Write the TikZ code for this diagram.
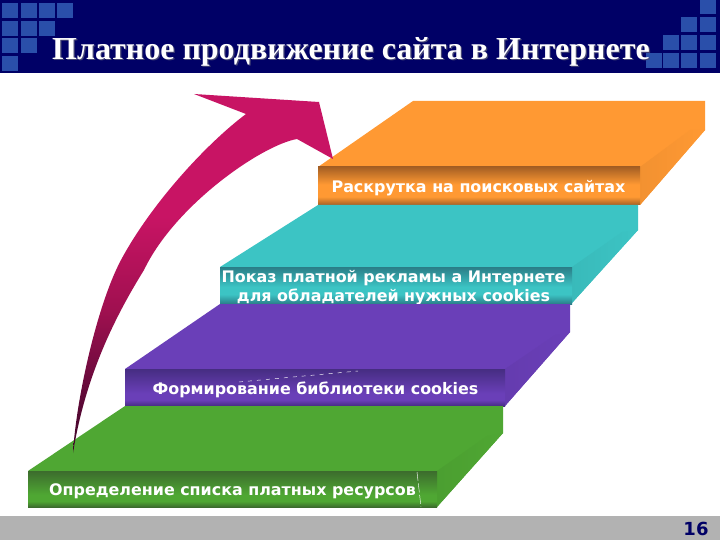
\documentclass[tikz,border=0pt]{standalone}
\usepackage{fontspec}
\setmainfont{Liberation Serif}
\newfontfamily\labelfont{DejaVu Sans}
\definecolor{navybar}{RGB}{0,0,102}
\definecolor{tile}{RGB}{42,79,170}
\definecolor{graybar}{RGB}{178,178,178}
\definecolor{orgtop}{RGB}{255,153,51}
\definecolor{orgdark}{RGB}{165,95,35}
\definecolor{teltop}{RGB}{60,196,196}
\definecolor{teldark}{RGB}{42,125,135}
\definecolor{pur}{RGB}{106,63,184}
\definecolor{purdark}{RGB}{70,45,130}
\definecolor{grn}{RGB}{79,167,51}
\definecolor{grndark}{RGB}{60,108,45}
\definecolor{crim}{RGB}{200,20,100}
\definecolor{wineA}{RGB}{60,5,40}
\definecolor{wineB}{RGB}{106,10,60}
\definecolor{wineC}{RGB}{160,16,80}
\pgfdeclareverticalshading{arrowgrad}{100bp}{color(0bp)=(wineA); color(25bp)=(wineA); color(35bp)=(wineB); color(45bp)=(wineC); color(58bp)=(crim); color(100bp)=(crim)}
\pgfdeclareverticalshading{frontorg}{100bp}{color(0bp)=(orgdark); color(25bp)=(orgdark); color(36bp)=(orgtop); color(52bp)=(orgtop); color(75bp)=(orgdark); color(100bp)=(orgdark)}
\pgfdeclareverticalshading{fronttel}{100bp}{color(0bp)=(teldark); color(25bp)=(teldark); color(38bp)=(teltop); color(48bp)=(teltop); color(75bp)=(teldark); color(100bp)=(teldark)}
\pgfdeclareverticalshading{frontpur}{100bp}{color(0bp)=(purdark); color(25bp)=(purdark); color(33bp)=(pur); color(42bp)=(pur); color(75bp)=(purdark); color(100bp)=(purdark)}
\pgfdeclareverticalshading{frontgrn}{100bp}{color(0bp)=(grndark); color(25bp)=(grndark); color(33bp)=(grn); color(42bp)=(grn); color(75bp)=(grndark); color(100bp)=(grndark)}
\tikzset{
  tilebox/.style={fill=tile,draw=none},
  steplabel/.style={font=\labelfont\bfseries\fontsize{15.9}{19}\selectfont,text=white,align=center,inner sep=0pt},
  titletext/.style={font=\bfseries\fontsize{32}{34}\selectfont,inner sep=0pt},
  thinmark/.style={white,line width=0.45pt,dash pattern=on 4pt off 5pt},
  thinmarkv/.style={white,line width=0.45pt,dash pattern=on 9pt off 2.5pt},
}
\begin{document}
\begin{tikzpicture}[x=1pt,y=-1pt]
\useasboundingbox (0,0) rectangle (720,540);
\fill[white] (0,0) rectangle (720,540);
% header
\fill[navybar] (0,0) rectangle (720,73);
\foreach \x/\y in {2/3,21/3,39/3,57/3,2/21,21/21,39/21,2/38,21/38,2/56}
  \fill[tilebox] (\x,\y) rectangle ++(16,15);
\foreach \x/\y in {700/-1,681/17,700/17,663/35,681/35,700/35,646/53,663/53,681/53,700/53}
  \fill[tilebox] (\x,\y) rectangle ++(15.5,15);
\node[titletext,text=gray!55!navybar] at (352.2,53.2) {Платное продвижение сайта в Интернете};
\node (title) [titletext,text=white] at (351,52) {Платное продвижение сайта в Интернете};
% footer
\fill[graybar] (0,516) rectangle (720,540);
\node (pagenum) [font=\labelfont\bfseries\fontsize{18}{20}\selectfont,text=navybar,inner sep=0pt] at (696,529) {16};
% orange step
\fill[orgtop] (318,167) -- (413,101) -- (705,101) -- (705,130) -- (640,205) -- (640,167) -- cycle;
\shade[left color=orgtop!95!black,right color=orgtop] (640,167) -- (690,130) -- (705,130) -- (640,205) -- cycle;
\shade[shading=frontorg] (318,167) rectangle (640,205);
\node (s4) [steplabel] at (478.5,188) {Раскрутка на поисковых сайтах};
% teal step
\fill[teltop] (220,267) -- (318,205) -- (638,205) -- (638,230) -- (572,303) -- (572,267) -- cycle;
\shade[left color=teltop!95!black,right color=teltop] (572,267) -- (622,232) -- (638,230) -- (572,303) -- cycle;
\shade[shading=fronttel] (220,267) rectangle (572,304);
\node (s3) [steplabel,anchor=north] at (393.5,270) {Показ платной рекламы а Интернете\\для обладателей нужных cookies};
% purple step
\fill[pur] (125,369) -- (220,304) -- (570,304) -- (570,332) -- (505,406) -- (505,369) -- cycle;
\shade[left color=pur!95!black,right color=pur] (505,369) -- (555,335) -- (570,332) -- (505,406) -- cycle;
\shade[shading=frontpur] (125,369) rectangle (505,406);
\node (s2) [steplabel] at (315.5,389.5) {Формирование библиотеки cookies};
\coordinate (d1) at (239,382);
\coordinate (d2) at (358,371);
\draw[thinmark] (d1) -- (d2);
% green step
\fill[grn] (28,471) -- (125,406) -- (503,406) -- (503,433) -- (437,507) -- (437,471) -- cycle;
\shade[left color=grn!95!black,right color=grn] (437,471) -- (487,436) -- (503,433) -- (437,507) -- cycle;
\shade[shading=frontgrn] (28,471) rectangle (437,507);
\node (s1) [steplabel] at (232.5,491) {Определение списка платных ресурсов};
\coordinate (d3) at (417,472);
\coordinate (d4) at (421,507);
\draw[thinmarkv] (d3) -- (d4);
% arrow
\shade[shading=arrowgrad] (73,453)
  .. controls (76,400) and (97,305) .. (121,260)
  .. controls (151,204) and (206,144) .. (246,114)
  -- (194,94) -- (319,102) -- (333,159) -- (297,139)
  .. controls (262,145) and (175,205) .. (144,270)
  .. controls (118,312) and (86,372) .. (73,453) -- cycle;
\end{tikzpicture}
\end{document}
